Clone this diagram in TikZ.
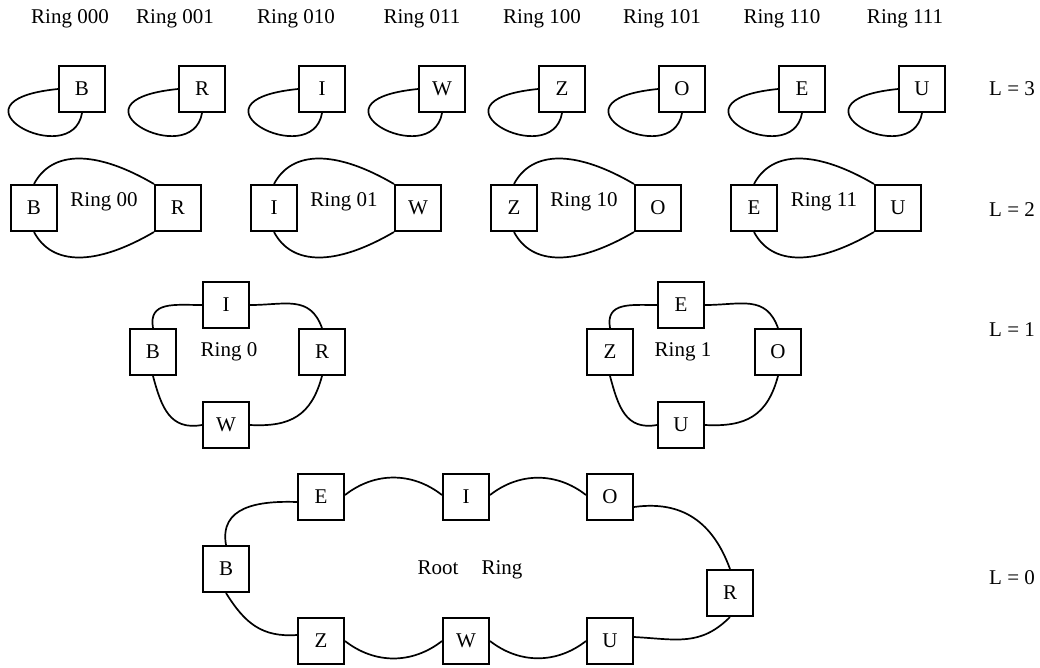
\documentclass[tikz,border=0pt]{standalone}
\usepackage{fontspec}
\setmainfont{Liberation Serif}
\begin{document}
\begin{tikzpicture}[x=1pt, y=1pt,
  font=\fontsize{21}{25}\selectfont,
  box/.style={draw, line width=1.7pt, minimum size=46.3pt, inner sep=0pt},
  link/.style={line width=1.7pt},
  lbl/.style={inner sep=0pt}]
\useasboundingbox (0,0) rectangle (1040,-667);

% ring names of the deepest level
\foreach \nm/\tx/\xx in {t0/000/70, t1/001/175, t2/010/296, t3/011/422,
                         t4/100/542, t5/101/662, t6/110/782, t7/111/905}
  \node[lbl] (\nm) at (\xx,-19) {Ring \tx};

% level labels
\node[lbl] (lv3) at (1012,-89)  {L = 3};
\node[lbl] (lv2) at (1012,-210) {L = 2};
\node[lbl] (lv1) at (1012,-330) {L = 1};
\node[lbl] (lv0) at (1012,-578) {L = 0};

% L = 3 : single-node rings with a self loop
\foreach \n/\t [count=\k from 0] in {b3/B, r3/R, i3/I, w3/W, z3/Z, o3/O, e3/E, u3/U} {
  \node[box] (\n) at (82+120*\k,-89) {\t};
  \draw[link] (\n.west) .. controls +(-120,-12) and +(-10,-59) .. (\n.south);
}

% L = 2 : two-node rings
\foreach \a/\ta/\b/\tb/\r/\x [count=\k from 0] in
   {b2/B/r2/R/00/34, i2/I/w2/W/01/274, z2/Z/o2/O/10/514, e2/E/u2/U/11/754} {
  \node[box] (\a) at (\x,-208) {\ta};
  \node[box] (\b) at (\x+144,-208) {\tb};
  \node[lbl] (rl\k) at (\x+70,-202) {Ring \r};
  \draw[link] (\a.north) .. controls +(18,34) and +(-58,34) .. (\b.north west);
  \draw[link] (\a.south) .. controls +(18,-34) and +(-58,-34) .. (\b.south west);
}

% L = 1 : four-node rings
\node[box] (b1) at (153,-352) {B};
\node[box] (i1) at (226,-305) {I};
\node[box] (r1) at (322,-352) {R};
\node[box] (w1) at (226,-425) {W};
\node[lbl] (ring0) at (229,-352) {Ring 0};
\draw[link] (b1.north) to[out=100,in=180,looseness=1.3] (i1.west);
\draw[link] (i1.east) to[out=0,in=110,looseness=1.2] (r1.north);
\draw[link] (b1.south) to[out=-75,in=190,looseness=1.2] (w1.west);
\draw[link] (w1.east) to[out=-3,in=-105,looseness=1.2] (r1.south);

\node[box] (z1) at (610,-352) {Z};
\node[box] (e1) at (681,-305) {E};
\node[box] (o1) at (778,-352) {O};
\node[box] (u1) at (681,-425) {U};
\node[lbl] (ring1) at (683,-352) {Ring 1};
\draw[link] (z1.north) to[out=100,in=180,looseness=1.3] (e1.west);
\draw[link] (e1.east) to[out=0,in=110,looseness=1.2] (o1.north);
\draw[link] (z1.south) to[out=-75,in=190,looseness=1.2] (u1.west);
\draw[link] (u1.east) to[out=-3,in=-105,looseness=1.2] (o1.south);

% L = 0 : root ring
\node[box] (b0) at (226,-569) {B};
\node[box] (e0) at (321,-497) {E};
\node[box] (i0) at (466,-497) {I};
\node[box] (o0) at (610,-497) {O};
\node[box] (r0) at (730,-593) {R};
\node[box] (u0) at (610,-641) {U};
\node[box] (w0) at (466,-641) {W};
\node[box] (z0) at (321,-641) {Z};
\node[lbl] (root) at (470,-570) {Root\hspace{23pt}Ring};
\draw[link] (b0.north) to[out=100,in=178,looseness=1.2] ([yshift=-5pt]e0.west);
\draw[link] ([yshift=2pt]e0.east) to[out=38,in=142] ([yshift=2pt]i0.west);
\draw[link] ([yshift=2pt]i0.east) to[out=38,in=142] ([yshift=2pt]o0.west);
\draw[link] ([yshift=-10pt]o0.east) to[out=8,in=110,looseness=1.1] (r0.north);
\draw[link] (r0.south) to[out=225,in=-3,looseness=1.1] ([yshift=4pt]u0.west -| u0.east);
\draw[link] (w0.east) to[out=-38,in=218] (u0.west);
\draw[link] (z0.east) to[out=-38,in=218] (w0.west);
\draw[link] (b0.south) to[out=-58,in=184,looseness=1.1] ([yshift=6pt]z0.west);
\end{tikzpicture}
\end{document}
